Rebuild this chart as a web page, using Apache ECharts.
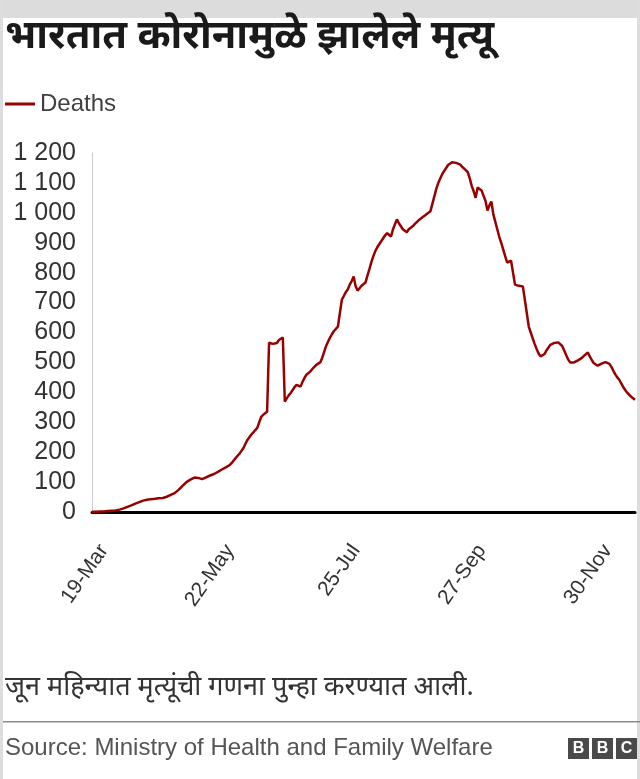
<!DOCTYPE html>
<html>
<head>
<meta charset="utf-8">
<script src="https://cdn.jsdelivr.net/npm/echarts@6/dist/echarts.min.js"></script>
<style>
  html, body { margin: 0; padding: 0; background: #fff; }
  #chart { width: 640px; height: 779px; }
</style>
</head>
<body>
<div id="chart"></div>
<script>
// 7-day average of daily deaths, one value per day from 19 Mar 2020
const startDate = new Date(2020, 2, 19)
const deaths = [
  1, 1, 1, 1, 2, 2, 2, 3, 3, 3, 4, 4, 5, 6, 8,
  10, 12, 14, 17, 19, 22, 25, 28, 31, 33, 36, 38,
  40, 41, 42, 43, 44, 44, 45, 46, 46, 47,
  49, 51, 54, 57, 60, 63,
  68, 74, 80, 87, 93, 100,
  104, 108, 112, 115, 117,
  114, 111, 110,
  113, 116, 119, 122, 124,
  127, 131, 134, 138, 142, 146, 149, 151,
  157, 164, 172, 180, 188, 195, 201,
  214, 228, 241,
  250, 259, 266, 274, 281,
  300, 318, 325, 330, 335,
  566, 570, 562, 558, 565, 575, 580, 583,
  369, 380, 390, 398, 408, 418, 425,
  428, 419, 435, 448, 459,
  465, 470, 478, 485, 492, 497, 500,
  515, 535, 555, 570, 583,
  595, 605, 612, 620,
  665, 710, 722, 735, 744,
  760, 772, 787, 755, 740,
  748, 756, 762, 767,
  790, 812, 835, 855, 872, 885,
  895, 905, 915, 925, 932, 938,
  921, 945, 962, 978,
  965, 955, 945, 940, 935,
  945, 950, 955, 962, 968, 975, 978,
  985, 990, 995, 1000, 1005,
  1030, 1055, 1080, 1100, 1115, 1129,
  1140, 1150, 1160, 1166, 1169,
  1170, 1167, 1165, 1162,
  1155, 1150, 1143, 1136,
  1115, 1090, 1072, 1050, 1085,
  1080, 1075, 1069, 1040, 1008, 1025, 1038, 995,
  970, 945, 920, 900, 878,
  855, 834, 830, 840, 800, 760,
  758, 756, 755, 754,
  710, 665, 620,
  600, 580, 562, 545, 530, 520, 516,
  528, 540, 550, 559,
  562, 565, 566, 567, 568,
  555, 540, 525, 510, 500, 495,
  500, 504, 507, 509,
  515, 522, 528, 533,
  520, 508, 498, 492, 489,
  492, 496, 499, 501, 502,
  495, 485, 472, 460, 450, 442,
  430, 418, 408, 399,
  392, 386, 380, 375
]
const months = ['Jan', 'Feb', 'Mar', 'Apr', 'May', 'Jun', 'Jul', 'Aug', 'Sep', 'Oct', 'Nov', 'Dec']
const dates = deaths.map((_, i) => {
  const d = new Date(startDate)
  d.setDate(d.getDate() + i)
  return d.getDate() + '-' + months[d.getMonth()]
})
const yTicks = [0, 100, 200, 300, 400, 500, 600, 700, 800, 900, 1000, 1100, 1200]

const title = 'भारतात कोरोनामुळे झालेले मृत्यू'
const note = 'जून महिन्यात मृत्यूंची गणना पुन्हा करण्यात आली.'
const source = 'Source: Ministry of Health and Family Welfare'

const font = '"Liberation Sans", Arial, sans-serif'
const devFont = '"Noto Sans Devanagari", "Lohit Devanagari", "Noto Sans", sans-serif'

const chart = echarts.init(document.getElementById('chart'))

const logo = ['B', 'B', 'C'].map((ch, i) => ({
  type: 'group',
  left: 568 + i * 24,
  top: 738,
  children: [
    { type: 'rect', shape: { x: 0, y: 0, width: 21, height: 21 }, style: { fill: '#4a4a4a' } },
    { type: 'text', x: 10.5, y: 11, style: { text: ch, fill: '#fff', font: 'bold 16px ' + font, align: 'center', verticalAlign: 'middle' } }
  ]
}))

chart.setOption({
  animation: false,
  title: [
    {
      text: title,
      left: 0,
      top: 16,
      textStyle: { fontFamily: devFont, fontSize: 40, fontWeight: 'bold', color: '#1a1a1a' }
    },
    {
      text: note,
      left: 0,
      top: 671,
      textStyle: { fontFamily: devFont, fontSize: 27, fontWeight: 'normal', color: '#333' }
    },
    {
      text: source,
      left: 0,
      top: 731,
      textStyle: { fontFamily: font, fontSize: 24, fontWeight: 'normal', color: '#555' }
    }
  ],
  legend: {
    left: 0,
    top: 87,
    itemWidth: 30,
    itemHeight: 3,
    itemGap: 8,
    icon: 'rect',
    textStyle: { fontFamily: font, fontSize: 24, color: '#404040' },
    data: ['Deaths']
  },
  grid: { left: 92, right: 5, top: 153, bottom: 267 },
  xAxis: {
    type: 'category',
    data: dates,
    boundaryGap: false,
    axisLine: { lineStyle: { color: '#000', width: 3 } },
    axisTick: { show: false },
    axisLabel: {
      interval: 63,
      rotate: 55,
      margin: 52,
      padding: [0, -21, 0, 0],
      fontFamily: font,
      fontSize: 21,
      color: '#333'
    },
    splitLine: { show: false }
  },
  yAxis: {
    type: 'value',
    min: yTicks[0],
    max: yTicks[yTicks.length - 1],
    interval: 100,
    axisLine: { show: true, lineStyle: { color: '#ccc', width: 1 } },
    axisTick: { show: false },
    splitLine: { show: false },
    axisLabel: {
      margin: 16,
      fontFamily: font,
      fontSize: 25,
      color: '#333',
      formatter: v => String(v).replace(/\B(?=(\d{3})+(?!\d))/g, ' ')
    }
  },
  series: [
    {
      name: 'Deaths',
      type: 'line',
      data: deaths,
      symbol: 'none',
      z: 1,
      lineStyle: { color: '#990000', width: 2.5 },
      itemStyle: { color: '#990000' }
    }
  ],
  graphic: [
    { type: 'rect', left: 0, top: 0, shape: { width: 640, height: 18 }, style: { fill: '#dcdcdc' } },
    { type: 'rect', left: 0, top: 0, shape: { width: 3, height: 779 }, style: { fill: '#dddddd' } },
    { type: 'rect', left: 637, top: 0, shape: { width: 3, height: 779 }, style: { fill: '#dddddd' } },
    { type: 'rect', left: 3, top: 721, shape: { width: 637, height: 1.5 }, style: { fill: '#8c8c8c' } },
    ...logo
  ]
})

window.addEventListener('resize', () => chart.resize())
</script>
</body>
</html>
